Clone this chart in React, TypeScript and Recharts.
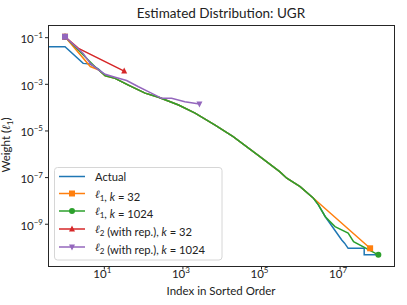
import React from 'react';
import { LineChart, Line, XAxis, YAxis } from 'recharts';

const actualIdx = [0.37, 1, 2.9, 4.4, 7.1, 10.5, 18.8, 41, 109, 240, 775, 2040, 6600, 1.9e4, 9.1e4, 2.9e5, 4.4e5, 9.6e5, 2.1e6, 2.8e6, 4.2e6, 1.1e7, 1.3e7, 1.6e7, 4.1e7, 4.1e7, 9.4e7];
const actualW = [4.1e-2, 4.1e-2, 7.9e-3, 7.4e-3, 4.5e-3, 2.5e-3, 1.8e-3, 9.3e-4, 4.2e-4, 2.8e-4, 1.3e-4, 5.8e-5, 1.8e-5, 5.7e-6, 8.0e-7, 1.8e-7, 9.4e-8, 4.1e-8, 1.3e-8, 6.8e-9, 2.1e-9, 2.1e-10, 1.55e-10, 9.3e-11, 9.3e-11, 4.9e-11, 4.9e-11];

const l1k32Idx = [1, 4.4, 7.1, 10.5, 18.8, 41, 109, 240, 775, 2040, 6600, 1.9e4, 9.1e4, 2.9e5, 4.4e5, 9.6e5, 2.1e6, 5.8e7];
const l1k32W = [0.11, 5.8e-3, 4.2e-3, 2.3e-3, 1.8e-3, 9.3e-4, 4.2e-4, 2.8e-4, 1.3e-4, 5.8e-5, 1.8e-5, 5.7e-6, 8.0e-7, 1.8e-7, 9.4e-8, 4.1e-8, 1.3e-8, 9.3e-11];

const l1k1024Idx = [1, 5.8, 10.5, 18.8, 41, 109, 240, 775, 2040, 6600, 1.9e4, 9.1e4, 2.9e5, 4.4e5, 9.6e5, 2.1e6, 2.8e6, 4.2e6, 7.4e6, 1.6e7, 2.2e7, 9.4e7];
const l1k1024W = [0.11, 5.7e-3, 2.3e-3, 1.8e-3, 9.3e-4, 4.2e-4, 2.8e-4, 1.3e-4, 5.8e-5, 1.8e-5, 5.7e-6, 8.0e-7, 1.8e-7, 9.4e-8, 4.1e-8, 1.3e-8, 6.8e-9, 2.1e-9, 7.9e-10, 4.2e-10, 1.8e-10, 4.9e-11];

const l2k32Idx = [1, 2.2, 32];
const l2k32W = [0.11, 3.5e-2, 3.7e-3];

const l2k1024Idx = [1, 2.9, 4.4, 7.1, 10.5, 18.8, 37, 74, 132, 290, 515, 1120, 2630];
const l2k1024W = [0.11, 2.1e-2, 7.9e-3, 4.2e-3, 2.7e-3, 2.0e-3, 1.45e-3, 7.9e-4, 4.9e-4, 2.5e-4, 2.5e-4, 1.8e-4, 1.45e-4];

const xTicks = [1e1, 1e3, 1e5, 1e7];
const xTickExp = ['1', '3', '5', '7'];
const yTicks = [1e-1, 1e-3, 1e-5, 1e-7, 1e-9];
const yTickExp = ['\u22121', '\u22123', '\u22125', '\u22127', '\u22129'];

const zip = (xs: number[], ys: number[]) => xs.map((x, i) => ({ i: x, w: ys[i] }));

const actualData = zip(actualIdx, actualW);
const l1k32Data = zip(l1k32Idx, l1k32W);
const l1k1024Data = zip(l1k1024Idx, l1k1024W);
const l2k32Data = zip(l2k32Idx, l2k32W);
const l2k1024Data = zip(l2k1024Idx, l2k1024W);

const C = {
  blue: '#1f77b4',
  orange: '#ff7f0e',
  green: '#2ca02c',
  red: '#d62728',
  purple: '#9467bd',
};

const FONT = 'Lato, "DejaVu Sans", sans-serif';

function Marker({ shape, cx, cy, color, size = 6 }: any) {
  const h = size / 2;
  if (shape === 'square') return <rect x={cx - h} y={cy - h} width={size} height={size} fill={color} />;
  if (shape === 'circle') return <circle cx={cx} cy={cy} r={h} fill={color} />;
  if (shape === 'tri') return <polygon points={`${cx},${cy - h - 0.5} ${cx - h},${cy + h - 0.5} ${cx + h},${cy + h - 0.5}`} fill={color} />;
  if (shape === 'tridown') return <polygon points={`${cx},${cy + h + 0.5} ${cx - h},${cy - h + 0.5} ${cx + h},${cy - h + 0.5}`} fill={color} />;
  return null;
}

const endDots = (firstShape: string, lastShape: string, color: string, n: number) => (props: any) => {
  const { cx, cy, index } = props;
  if (index === 0) return <Marker key={`d${index}`} shape={firstShape} cx={cx} cy={cy} color={color} />;
  if (index === n - 1) return <Marker key={`d${index}`} shape={lastShape} cx={cx} cy={cy} color={color} />;
  return <g key={`d${index}`} />;
};

const XTick = (props: any) => {
  const { x, y, payload } = props;
  const k = xTicks.indexOf(payload.value);
  return (
    <text x={x - 2} y={y + 6.5} textAnchor="middle" fontFamily={FONT} fontSize={11.5} fill="#222">
      10<tspan dy={-5} fontSize={8}>{xTickExp[k]}</tspan>
    </text>
  );
};

const YTick = (props: any) => {
  const { x, y, payload } = props;
  const k = yTicks.findIndex((t) => Math.abs(Math.log10(t) - Math.log10(payload.value)) < 1e-6);
  return (
    <text x={x} y={y + 5.5} textAnchor="end" fontFamily={FONT} fontSize={11.5} fill="#222">
      10<tspan dy={-5} fontSize={8}>{yTickExp[k]}</tspan>
    </text>
  );
};

const Ell = ({ sub }: { sub: string }) => (
  <>
    <tspan fontStyle="italic" fontFamily='"DejaVu Serif", serif'>ℓ</tspan>
    <tspan dy={3} fontSize={8}>{sub}</tspan>
    <tspan dy={-3}></tspan>
  </>
);

const legendRows = [
  { color: C.blue, shape: '', y: 9.5 },
  { color: C.orange, shape: 'square', y: 26.5 },
  { color: C.green, shape: 'circle', y: 44 },
  { color: C.red, shape: 'tri', y: 62 },
  { color: C.purple, shape: 'tridown', y: 80 },
];

const LegendBox = () => (
  <svg width={170} height={95} style={{ display: 'block' }}>
    <rect x={0.5} y={0.5} width={167.5} height={92.5} rx={3} fill="rgba(255,255,255,0.8)" stroke="#d6d6d6" />
    {legendRows.map((r, k) => (
      <g key={k}>
        <line x1={5} x2={31} y1={r.y} y2={r.y} stroke={r.color} strokeWidth={1.5} />
        {r.shape && <Marker shape={r.shape} cx={18} cy={r.y} color={r.color} />}
      </g>
    ))}
    <g fontFamily={FONT} fontSize={11.2} fill="#222">
      <text x={41} y={13.5}>Actual</text>
      <text x={41} y={30.5}>
        <Ell sub="1" />, <tspan fontStyle="italic">k</tspan> = 32
      </text>
      <text x={41} y={48}>
        <Ell sub="1" />, <tspan fontStyle="italic">k</tspan> = 1024
      </text>
      <text x={41} y={66}>
        <Ell sub="2" /> (with rep.), <tspan fontStyle="italic">k</tspan> = 32
      </text>
      <text x={41} y={84}>
        <Ell sub="2" /> (with rep.), <tspan fontStyle="italic">k</tspan> = 1024
      </text>
    </g>
  </svg>
);

export default function App() {
  return (
    <div style={{ position: 'absolute', left: 0, top: 0, width: 407, height: 305, background: '#fff' }}>
      <LineChart
        width={407}
        height={305}
        margin={{ top: 25, right: 13, bottom: 9, left: 0 }}
      >
        <XAxis
          xAxisId="b"
          dataKey="i"
          type="number"
          scale="log"
          domain={[0.38, 2.35e8]}
          allowDataOverflow
          ticks={xTicks}
          tick={<XTick />}
          tickSize={3.5}
          tickMargin={2}
          height={30}
          axisLine={false}
          tickLine={{ stroke: '#222' }}
          interval={0}
        />
        <YAxis
          yAxisId="l"
          dataKey="w"
          type="number"
          scale="log"
          domain={[1.62e-11, 0.35]}
          allowDataOverflow
          ticks={yTicks}
          tick={<YTick />}
          tickSize={3.5}
          tickMargin={2}
          width={48.5}
          axisLine={false}
          tickLine={{ stroke: '#222' }}
          interval={0}
        />
        <Line xAxisId="b" yAxisId="l" data={actualData} dataKey="w" stroke={C.blue} strokeWidth={1.5} dot={false} isAnimationActive={false} type="linear" />
        <Line xAxisId="b" yAxisId="l" data={l1k32Data} dataKey="w" stroke={C.orange} strokeWidth={1.5} dot={endDots('square', 'square', C.orange, l1k32Data.length)} isAnimationActive={false} type="linear" />
        <Line xAxisId="b" yAxisId="l" data={l1k1024Data} dataKey="w" stroke={C.green} strokeWidth={1.5} dot={endDots('circle', 'circle', C.green, l1k1024Data.length)} isAnimationActive={false} type="linear" />
        <Line xAxisId="b" yAxisId="l" data={l2k32Data} dataKey="w" stroke={C.red} strokeWidth={1.5} dot={endDots('tri', 'tri', C.red, l2k32Data.length)} isAnimationActive={false} type="linear" />
        <Line xAxisId="b" yAxisId="l" data={l2k1024Data} dataKey="w" stroke={C.purple} strokeWidth={1.5} dot={endDots('square', 'tridown', C.purple, l2k1024Data.length)} isAnimationActive={false} type="linear" />
      </LineChart>
      <div style={{ position: 'absolute', left: 48, top: 25, width: 346.5, height: 241.5, boxSizing: 'border-box', border: '1px solid #262626', pointerEvents: 'none' }} />
      <div style={{ position: 'absolute', left: 54, top: 167 }}>
        <LegendBox />
      </div>
      <div style={{ position: 'absolute', left: 0, top: 5, width: 442, textAlign: 'center', fontFamily: FONT, fontSize: 13.5, color: '#222', lineHeight: '16px' }}>
        Estimated Distribution: UGR
      </div>
      <div style={{ position: 'absolute', left: 0, top: 284, width: 442, textAlign: 'center', fontFamily: FONT, fontSize: 11.5, color: '#222', lineHeight: '14px' }}>
        Index in Sorted Order
      </div>
      <div style={{ position: 'absolute', left: 8, top: 145, width: 0, height: 0 }}>
        <div style={{ position: 'absolute', transform: 'translate(-50%, -50%) rotate(-90deg)', whiteSpace: 'nowrap', fontFamily: FONT, fontSize: 11.5, color: '#222', lineHeight: '14px' }}>
          Weight (<span style={{ fontFamily: '"DejaVu Serif", serif', fontStyle: 'italic' }}>ℓ</span><sub style={{ fontSize: 8 }}>1</sub>)
        </div>
      </div>
    </div>
  );
}
